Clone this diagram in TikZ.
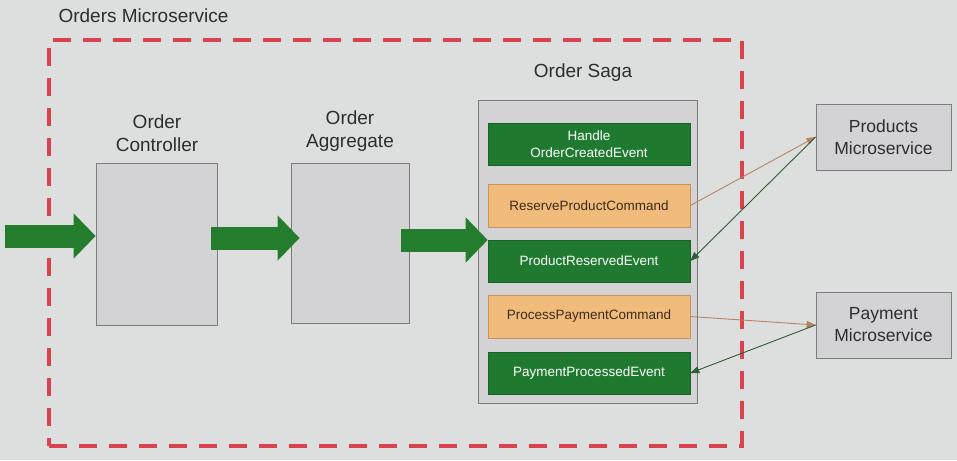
\documentclass[tikz,border=0pt]{standalone}
\usepackage{fontspec}
\setmainfont{Liberation Sans}
\usetikzlibrary{arrows.meta}
\definecolor{bg}{HTML}{DCDFDE}
\definecolor{frame}{HTML}{D9434F}
\definecolor{labeltext}{HTML}{2E2E2E}
\definecolor{boxfill}{HTML}{D3D3D6}
\definecolor{boxline}{HTML}{7C7C80}
\definecolor{evgreen}{HTML}{1F7A30}
\definecolor{cmdorange}{HTML}{F1BC7B}
\definecolor{cmdline}{HTML}{C8925A}
\definecolor{cmdtext}{HTML}{3B2A1C}
\definecolor{arrowgreen}{HTML}{237D2C}
\definecolor{cmdarrowc}{HTML}{B88460}
\definecolor{evarrowc}{HTML}{2F5E35}
\begin{document}
\begin{tikzpicture}[x=1pt,y=-1pt,
    box/.style={draw=boxline,fill=boxfill,line width=0.8pt},
    event/.style={draw=evgreen!80!black,fill=evgreen,text=white,line width=0.6pt,
      minimum width=202pt,minimum height=42pt,align=center,
      font=\fontsize{13.5}{17}\selectfont},
    command/.style={event,draw=cmdline,fill=cmdorange,text=cmdtext},
    title/.style={text=labeltext,align=center,font=\fontsize{19}{23}\selectfont},
    service/.style={box,minimum width=135pt,minimum height=66pt,text=labeltext,
      align=center,font=\fontsize{17.5}{22}\selectfont},
    bigarrow/.style={draw=arrowgreen,line width=23pt,-{Triangle[length=22pt,width=44pt]}},
    cmdarrow/.style={draw=cmdarrowc,line width=0.9pt,-{Triangle[length=9pt,width=7pt]}},
    evarrow/.style={draw=evarrowc,line width=0.9pt,-{Triangle[length=9pt,width=7pt]}}]
  \fill[bg] (0,0) rectangle (957,460);
  \useasboundingbox (0,0) rectangle (957,460);
  \draw
    (395.5,243) node[draw=frame,line width=3.5pt,dash pattern=on 18pt off 12pt,
      minimum width=693pt,minimum height=406pt] (orders){}
    (55,16) node[title,anchor=west] (ordersname){Orders Microservice}
    (156.5,244) node[box,minimum width=121pt,minimum height=162pt] (ctrl){}
    (157,133) node[title] (ctrlname){Order\\Controller}
    (350,243) node[box,minimum width=118pt,minimum height=160pt] (agg){}
    (350,131) node[title] (aggname){Order\\Aggregate}
    (587.5,251.5) node[box,minimum width=219pt,minimum height=303pt] (saga){}
    (583,73) node[title] (saganame){Order Saga}
    (589,144) node[event] (handle){Handle\\OrderCreatedEvent}
    (589,205.5) node[command,minimum height=43pt] (reserve){ReserveProductCommand}
    (589,261) node[event] (reserved){ProductReservedEvent}
    (589,316.5) node[command,minimum height=43pt] (process){ProcessPaymentCommand}
    (589,373) node[event] (processed){PaymentProcessedEvent}
    (883.5,137) node[service] (products){Products\\Microservice}
    (883.5,325) node[service] (payment){Payment\\Microservice};
  \coordinate (in) at (5,236);
  \begin{scope}[-]
    \draw[bigarrow] (in) -- (in -| ctrl.west);
    \draw[bigarrow] ([xshift=-6pt]ctrl.east |- 0,238) -- ([xshift=9pt]agg.west |- 0,238);
    \draw[bigarrow] ([xshift=-8pt]agg.east |- 0,240) -- (reserved.west |- 0,240);
    \draw[cmdarrow] (reserve.east) -- (products.west);
    \draw[evarrow] (products.west) -- (reserved.east);
    \draw[cmdarrow] (process.east) -- (payment.west);
    \draw[evarrow] (payment.west) -- (processed.east);
  \end{scope}
\end{tikzpicture}
\end{document}
